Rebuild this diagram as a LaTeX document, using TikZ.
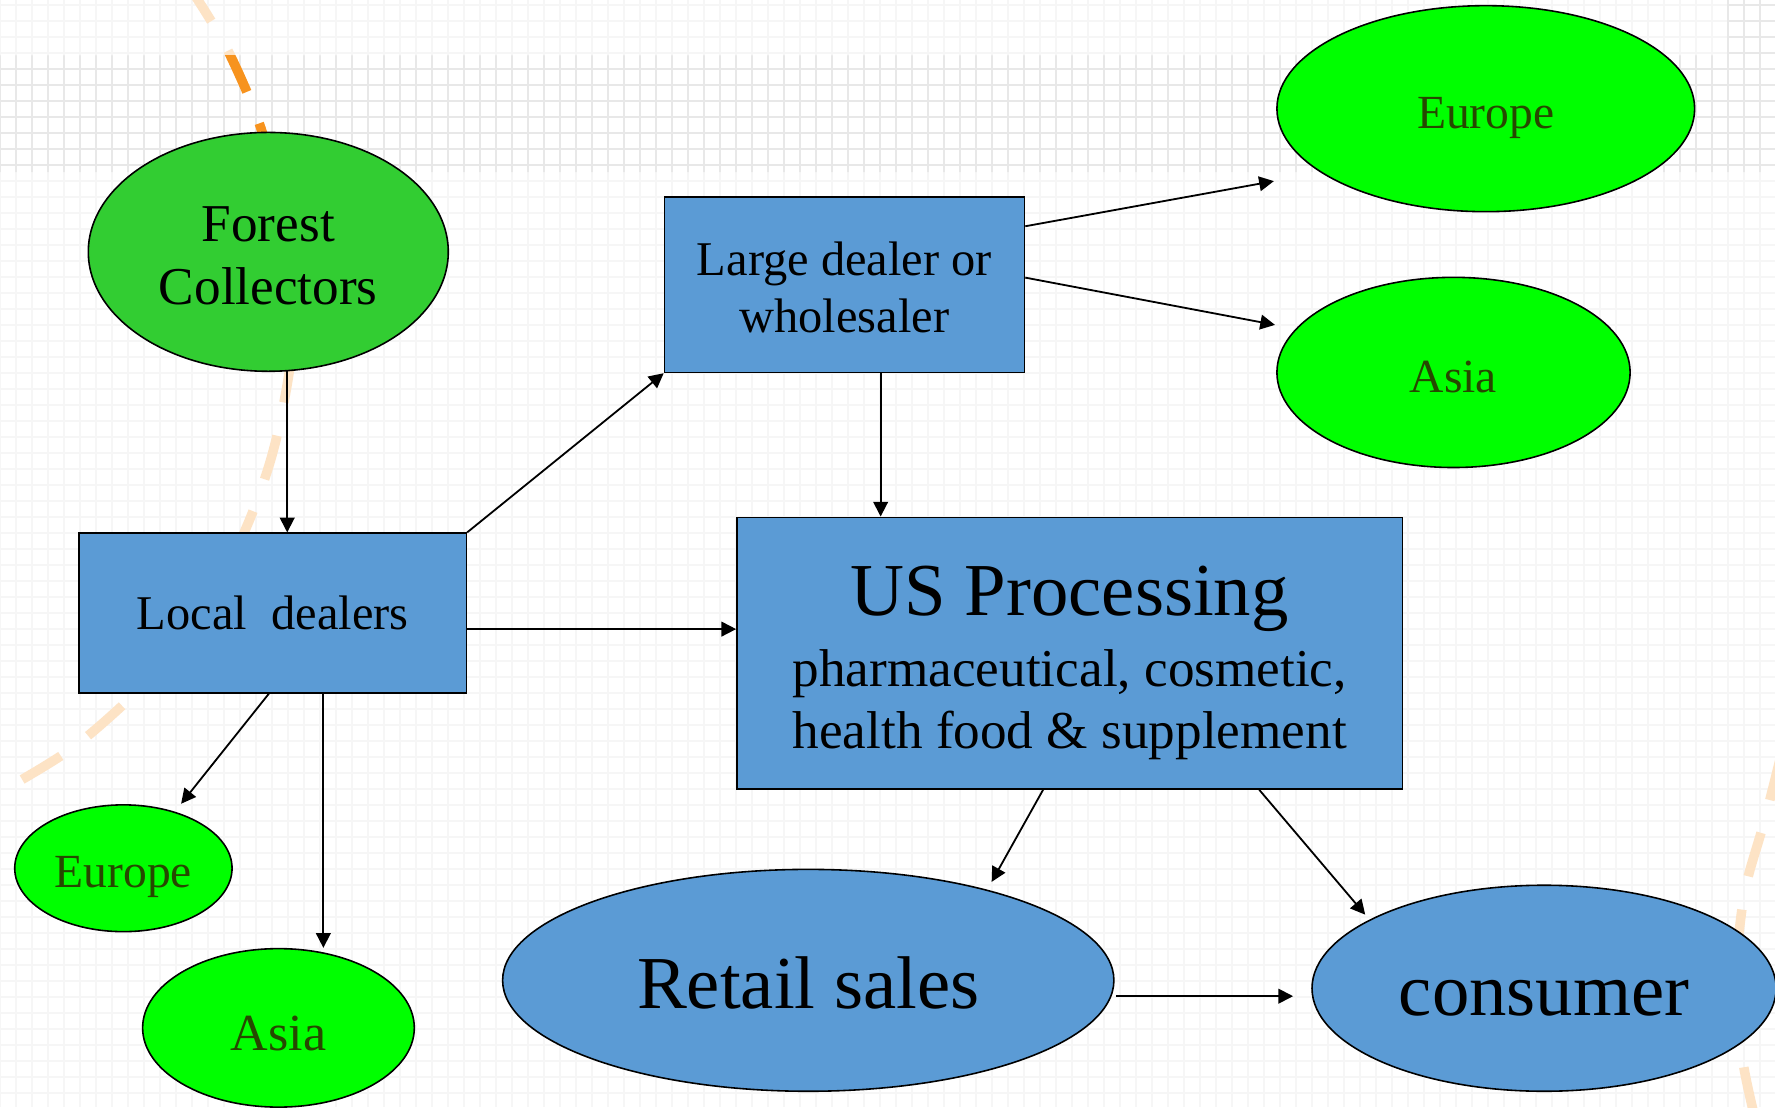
\documentclass[tikz,border=0pt]{standalone}
\usepackage{fontspec}
\setmainfont{Liberation Serif}
\usepackage{tikz}
\usetikzlibrary{calc}
\usetikzlibrary{shapes.geometric}
\usetikzlibrary{arrows.meta}

\definecolor{boxblue}{RGB}{91,155,213}
\definecolor{forestgreen}{RGB}{50,205,50}
\definecolor{regiongreen}{RGB}{0,255,0}
\definecolor{regiontext}{RGB}{38,72,0}
\definecolor{curveorange}{RGB}{247,147,30}
\definecolor{curvepale}{RGB}{253,227,197}
\definecolor{gridfaint}{RGB}{246,246,246}
\definecolor{griddark}{RGB}{232,232,232}

\tikzset{
    box/.style={draw, line width=0.7pt, fill=boxblue, inner sep=0pt, align=center},
    region/.style={ellipse, draw, line width=0.7pt, fill=regiongreen, inner sep=0pt,
        text=regiontext, text height=20.3pt, text depth=3pt,
        font=\fontsize{21}{24}\selectfont},
    bluering/.style={ellipse, draw, line width=0.7pt, fill=boxblue, inner sep=0pt,
        text height=24.5pt, text depth=0pt, font=\fontsize{33}{36}\selectfont},
    flow/.style={draw, line width=0.8pt, -{Triangle[length=6.5pt,width=6.5pt]}},
    trail/.style={line width=4.2pt, dash pattern=on 20pt off 15pt},
}

\begin{document}
\begin{tikzpicture}[x=0.5pt,y=-0.5pt]
        \useasboundingbox (0,0) rectangle (1568,978);
        \clip (0,0) rectangle (1568,978);
        \fill[white] (0,0) rectangle (1568,978);

        % grid
        \foreach \i in {0,...,111}
            \draw[gridfaint, line width=0.8pt] (\i*14.134,0) -- (\i*14.134,978);
        \foreach \j in {0,...,69}
            \draw[gridfaint, line width=0.8pt] (0,4.7+\j*14.134) -- (1568,4.7+\j*14.134);

        % darker band
        \begin{scope}
            \clip (0,49) rectangle (1525.6,152) (1525.6,0) rectangle (1568,152);
            \foreach \i in {0,...,111}
                \draw[griddark, line width=0.8pt] (\i*14.134,0) -- (\i*14.134,160);
            \foreach \j in {0,...,11}
                \draw[griddark, line width=0.8pt] (0,4.7+\j*14.134) -- (1568,4.7+\j*14.134);
        \end{scope}

        % dashed trails
        % --------------
        \draw[trail, curvepale] plot[smooth] coordinates {(165,-15) (200,42) (232,118)
            (252,210) (258,300) (250,360) (238,410) (218,465) (180,545) (125,607)
            (65,660) (0,700) (-15,708)};
        \begin{scope}
            \clip (0,49) rectangle (1568,152);
            \draw[trail, curveorange] plot[smooth] coordinates {(165,-15) (200,42) (232,118)
                (252,210) (258,300) (250,360) (238,410) (218,465) (180,545) (125,607)
                (65,660) (0,700) (-15,708)};
        \end{scope}
        \draw[trail, curvepale] plot[smooth] coordinates {(1590,600) (1560,720) (1541,789)
            (1533,870) (1540,940) (1552,995)};

        % nodes
        % -----
        \node[ellipse, draw, line width=0.7pt, fill=forestgreen, inner sep=0pt,
            minimum width=159pt, minimum height=105.5pt, align=center,
            font=\fontsize{23.5}{28}\selectfont] (forest) at (237,222.5)
            {\rule{0pt}{18.8pt}Forest\\Collectors};
        \node[box, minimum width=159pt, minimum height=77.5pt,
            font=\fontsize{21.4}{25}\selectfont] (large) at (746,251.5)
            {\rule{0pt}{17pt}Large dealer or\\wholesaler};
        \node[box, minimum width=171pt, minimum height=70.5pt,
            font=\fontsize{21.4}{25}\selectfont] (local) at (241,541.5) {Local\ \ dealers};
        \node[box, minimum width=294pt, minimum height=120pt,
            font=\fontsize{23.5}{27.5}\selectfont] (usp) at (945,577)
            {{\fontsize{33}{36}\selectfont\rule{0pt}{30.5pt}US Processing}\\[3.5pt]
             pharmaceutical, cosmetic,\\ health food \& supplement};

        \node[region, minimum width=184.5pt, minimum height=91pt] (eurtr) at (1312.5,96) {Europe};
        \node[region, minimum width=156pt, minimum height=84pt] (asiatr) at (1284,329) {Asia};
        \node[region, minimum width=96pt, minimum height=56pt] (eurbl) at (109,767) {Europe};
        \node[region, minimum width=120pt, minimum height=70pt, text height=22.7pt,
            font=\fontsize{23}{26}\selectfont] (asiabl) at (246,908) {Asia};

        \node[bluering, minimum width=270pt, minimum height=98pt] (retail) at (714,866) {Retail sales};
        \node[bluering, minimum width=205pt, minimum height=91pt] (consumer) at (1364,873) {consumer};

        % connector ends
        \coordinate (lde) at ($(local.north east)!0.6!(local.south east)$);
        \coordinate (ldb) at ($(local.south west)!0.49!(local.south east)$);
        \coordinate (lds) at ($(local.south west)!0.63!(local.south east)$);
        \coordinate (lgs) at ($(large.south west)!0.6!(large.south east)$);
        \coordinate (lge1) at ($(large.north east)!0.17!(large.south east)$);
        \coordinate (lge2) at ($(large.north east)!0.46!(large.south east)$);
        \coordinate (eurin) at ($(eurtr.west)+(-2,64)$);
        \coordinate (asiain) at ($(asiatr.west)+(-1,-42)$);
        \coordinate (eurblin) at ($(eurbl.center)+(51,-57)$);
        \coordinate (usa) at ($(usp.south west)!0.46!(usp.south east)$);
        \coordinate (usb) at ($(usp.south west)!0.784!(usp.south east)$);
        \coordinate (retin) at ($(retail.center)+(162,-87)$);
        \coordinate (conin) at ($(consumer.center)+(-158,-65)$);
        \coordinate (retout) at ($(retail.east)+(1,14)$);
        \coordinate (conleft) at ($(consumer.west)+(-16,7)$);

        % arrows
        \draw[flow] (forest.-81) -- (forest.-81 |- local.north);
        \draw[flow] (local.north east) -- (large.south west);
        \draw[flow] (lde) -- (lde -| usp.west);
        \draw[flow] (ldb) -- (eurblin);
        \draw[flow] (lds) -- (lds |- asiabl.north);
        \draw[flow] (lgs) -- (lgs |- usp.north);
        \draw[flow] (lge1) -- (eurin);
        \draw[flow] (lge2) -- (asiain);
        \draw[flow] (usa) -- (retin);
        \draw[flow] (usb) -- (conin);
        \draw[flow] (retout) -- (conleft);

    \end{tikzpicture}
\end{document}
